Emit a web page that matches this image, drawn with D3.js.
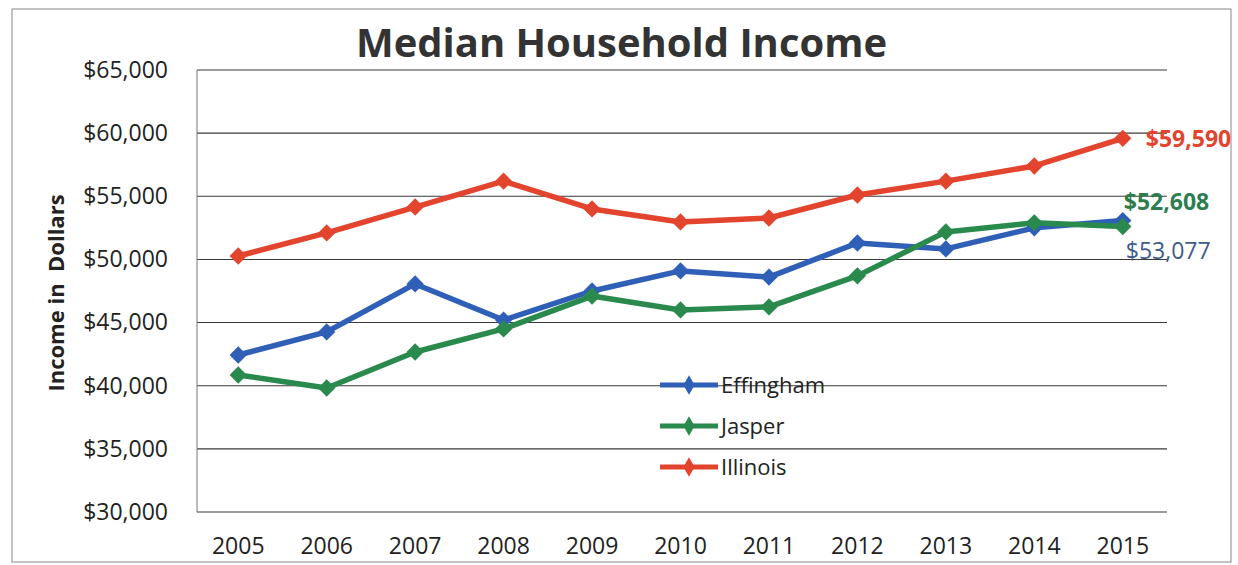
<!DOCTYPE html>
<html>
<head>
<meta charset="utf-8">
<script src="https://cdn.jsdelivr.net/npm/d3@7"></script>
<style>
  html, body { margin: 0; padding: 0; background: #fff; }
  svg { display: block; }
</style>
</head>
<body>
<svg id="chart" width="1238" height="565"></svg>
<script>
// Median household income, 2005-2015
const years = ["2005","2006","2007","2008","2009","2010","2011","2012","2013","2014","2015"];
const effingham = [42430, 44260, 48060, 45200, 47500, 49090, 48600, 51300, 50830, 52500, 53077];
const jasper    = [40850, 39820, 42670, 44500, 47100, 46000, 46240, 48700, 52180, 52900, 52608];
const illinois  = [50270, 52100, 54150, 56200, 54000, 52970, 53280, 55100, 56200, 57400, 59590];
const yTicks = [30000, 35000, 40000, 45000, 50000, 55000, 60000, 65000];
const seriesNames = ["Effingham", "Jasper", "Illinois"];

const colors = { Effingham: "#2f5fb6", Jasper: "#2a8a4e", Illinois: "#e2442e" };
const labelColors = { Effingham: "#3d5b8c", Jasper: "#2e7d4f", Illinois: "#e2442e" };

const series = [
  { name: "Effingham", values: effingham },
  { name: "Jasper", values: jasper },
  { name: "Illinois", values: illinois }
];

const svg = d3.select("#chart");
const font = "'Open Sans', 'Noto Sans', sans-serif";

const plot = { left: 197, right: 1167, top: 70, bottom: 512 };

const x = d3.scaleBand().domain(years).range([194, plot.right]);
const y = d3.scaleLinear().domain([30000, 65000]).range([plot.bottom, plot.top]);
const cx = d => x(d) + x.bandwidth() / 2;

// outer frame
svg.append("rect")
  .attr("x", 12).attr("y", 9).attr("width", 1219).attr("height", 553)
  .attr("fill", "none").attr("stroke", "#888").attr("stroke-width", 1);

// gridlines
svg.append("g").selectAll("line").data(yTicks).join("line")
  .attr("x1", plot.left).attr("x2", plot.right)
  .attr("y1", d => y(d)).attr("y2", d => y(d))
  .attr("stroke", "#3a3a3a").attr("stroke-width", 1.1);

// left axis line
svg.append("line")
  .attr("x1", plot.left).attr("x2", plot.left)
  .attr("y1", plot.top).attr("y2", plot.bottom)
  .attr("stroke", "#777").attr("stroke-width", 1);

// y axis
const yAxis = d3.axisLeft(y).tickValues(yTicks).tickSize(0).tickPadding(29)
  .tickFormat(d => "$" + d3.format(",")(d));
const gy = svg.append("g").attr("transform", `translate(${plot.left},0)`).call(yAxis);
gy.select(".domain").remove();
gy.selectAll("text").attr("font-family", font).attr("font-size", 23).attr("fill", "#222");

// x axis
const xAxis = d3.axisBottom(x).tickSize(0).tickPadding(26);
const gx = svg.append("g").attr("transform", `translate(0,${plot.bottom})`).call(xAxis);
gx.select(".domain").remove();
gx.selectAll("text").attr("font-family", font).attr("font-size", 23).attr("fill", "#222");

// title
svg.append("text")
  .attr("x", 356).attr("y", 57)
  .attr("textLength", 531).attr("lengthAdjust", "spacingAndGlyphs")
  .attr("font-family", font).attr("font-weight", "bold").attr("font-size", 40)
  .attr("fill", "#333").text("Median Household Income");

// y axis title
svg.append("text")
  .attr("transform", "translate(64,293) rotate(-90)")
  .attr("text-anchor", "middle")
  .attr("font-family", font).attr("font-weight", "bold").attr("font-size", 22)
  .attr("fill", "#222").attr("xml:space", "preserve").text("Income in  Dollars");

const line = d3.line()
  .x((d, i) => cx(years[i]))
  .y(d => y(d));

const marker = d3.symbol().type(d3.symbolSquare).size(150);

// lines and markers
const gs = svg.append("g").selectAll("g").data(series).join("g");
gs.append("path")
  .attr("d", d => line(d.values))
  .attr("fill", "none")
  .attr("stroke", d => colors[d.name])
  .attr("stroke-width", 5.5)
  .attr("stroke-linejoin", "round");
gs.each(function(s) {
  d3.select(this).selectAll("path.pt").data(s.values).join("path")
    .attr("class", "pt")
    .attr("d", marker)
    .attr("transform", (d, i) => `translate(${cx(years[i])},${y(d)}) rotate(45)`)
    .attr("fill", colors[s.name]);
});

// end-of-line value labels
const fmt = d => "$" + d3.format(",")(d);
const last = years.length - 1;
const xEnd = cx(years[last]);
svg.append("text")
  .attr("x", xEnd + 23).attr("y", y(illinois[last]) + 9)
  .attr("font-family", font).attr("font-weight", "bold").attr("font-size", 23)
  .attr("fill", labelColors.Illinois).text(fmt(illinois[last]));
svg.append("text")
  .attr("x", xEnd + 1).attr("y", y(jasper[last]) - 16)
  .attr("font-family", font).attr("font-weight", "bold").attr("font-size", 23)
  .attr("fill", labelColors.Jasper).text(fmt(jasper[last]));
svg.append("text")
  .attr("x", xEnd + 3).attr("y", y(effingham[last]) + 38)
  .attr("font-family", font).attr("font-size", 23)
  .attr("fill", labelColors.Effingham).text(fmt(effingham[last]));

// legend
const legendRows = [385, 426, 467];
const legendMarker = d3.symbol().type(d3.symbolDiamond).size(110);
const legend = svg.append("g").attr("transform", "translate(660,0)");
const rows = legend.selectAll("g").data(seriesNames).join("g")
  .attr("transform", (d, i) => `translate(0,${legendRows[i]})`);
rows.append("line").attr("x1", 0).attr("x2", 58).attr("y1", 0).attr("y2", 0)
  .attr("stroke", d => colors[d]).attr("stroke-width", 5);
rows.append("path").attr("d", legendMarker).attr("transform", "translate(29,0)")
  .attr("fill", d => colors[d]);
rows.append("text").attr("x", 61).attr("y", 8)
  .attr("font-family", font).attr("font-size", 22).attr("fill", "#222")
  .text(d => d);
</script>
</body>
</html>
